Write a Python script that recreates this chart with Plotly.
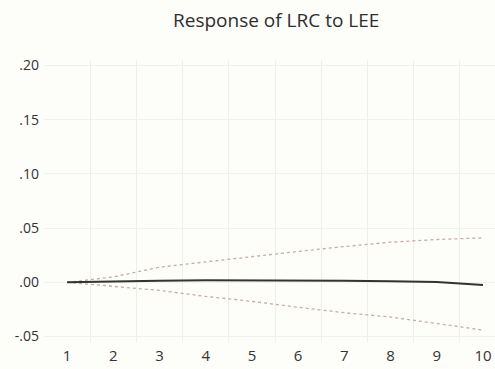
import plotly.graph_objects as go

periods = [1, 2, 3, 4, 5, 6, 7, 8, 9, 10]
response = [0.0, 0.001, 0.0015, 0.002, 0.002, 0.0018, 0.0015, 0.001, 0.0003, -0.0025]
upper = [0.0, 0.005, 0.014, 0.019, 0.024, 0.0285, 0.033, 0.037, 0.0395, 0.041]
lower = [0.0, -0.0037, -0.0074, -0.013, -0.0175, -0.023, -0.028, -0.032, -0.038, -0.044]
y_ticks = [-0.05, 0.0, 0.05, 0.10, 0.15, 0.20]
y_labels = ["-.05", ".00", ".05", ".10", ".15", ".20"]

fig = go.Figure()
band_style = dict(color="#c4aea4", width=1.3, dash="dot")
fig.add_trace(go.Scatter(x=periods, y=upper, mode="lines", line=band_style, showlegend=False))
fig.add_trace(go.Scatter(x=periods, y=lower, mode="lines", line=band_style, showlegend=False))
fig.add_trace(go.Scatter(x=periods, y=response, mode="lines",
                         line=dict(color="#333333", width=2), showlegend=False))

fig.update_layout(
    width=495, height=369,
    margin=dict(l=44, r=0, t=60, b=27),
    paper_bgcolor="#fdfdfa", plot_bgcolor="#fdfdfa",
    title=dict(text="Response of LRC to LEE", x=0.558, xanchor="center", y=0.945, yanchor="middle",
               font=dict(family="Open Sans", size=19, color="#2e2e2e")),
    font=dict(family="Open Sans", size=14, color="#333333"),
)
fig.update_xaxes(range=[0.5, 10.26], tickvals=periods, ticktext=[str(p) for p in periods],
                 showgrid=False, zeroline=False, showline=False, ticks="", automargin=False,
                 minor=dict(tick0=0.5, dtick=1, showgrid=True, gridcolor="#eeeeea", gridwidth=1),
                 ticklabelstandoff=3, tickfont=dict(size=15))
fig.update_yaxes(range=[-0.055, 0.205], tickvals=y_ticks, ticktext=y_labels, automargin=False,
                 showgrid=True, gridcolor="#f1f1ed", zeroline=False, showline=False, ticks="",
                 ticklabelstandoff=4, tickfont=dict(size=14))

fig.write_html("out.html", post_script="document.body.style.margin='0';",
               config={"displayModeBar": False})
